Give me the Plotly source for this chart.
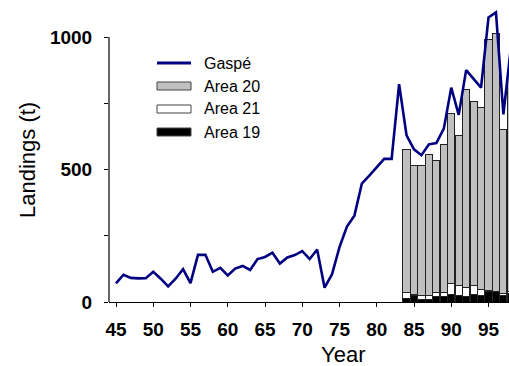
import plotly.graph_objects as go

# ---- data ----
line_years = list(range(45, 99))
gaspe = [70, 103, 91, 89, 90, 114, 88, 59, 88, 124,
         71, 178, 178, 114, 129, 100, 126, 136, 121, 162,
         170, 186, 145, 168, 177, 192, 162, 198, 54, 105,
         207, 285, 326, 447, 477, 510, 540, 540, 822, 629,
         576, 554, 595, 600, 654, 809, 706, 875, 841, 809,
         1074, 1093, 708, 960]

bar_years = list(range(84, 99))
area19 = [15, 25, 10, 10, 22, 21, 28, 23, 21, 28, 25, 40, 38, 25, 33]
area21 = [21, 3, 15, 15, 14, 15, 40, 40, 35, 33, 23, 4, 3, 8, 5]
area20 = [538, 486, 490, 531, 497, 560, 645, 567, 747, 695, 687, 947, 974, 619, 832]

x_ticks = [45, 50, 55, 60, 65, 70, 75, 80, 85, 90, 95]
y_tickvals = [0, 250, 500, 750, 1000]
y_ticktext = ["0", "", "500", "", "1000"]

# ---- layout geometry (pixels) ----
W, H = 509, 366
ML, MR, MT, MB = 109, 0, 5, 64
PW, PH = W - ML - MR, H - MT - MB
px_per_year = 7.45
x0 = 45 - (116 - ML) / px_per_year
x1 = x0 + PW / px_per_year
y_top = PH / 0.265

def xp(px):
    return (px - ML) / PW

def yp(py):
    return (H - MB - py) / PH

NAVY = "#000080"
GRAY = "#c0c0c0"
EDGE = "#222222"
FONT = "Liberation Sans, Arial, sans-serif"

fig = go.Figure()
for name, vals, col in [("Area 19", area19, "black"),
                        ("Area 21", area21, "white"),
                        ("Area 20", area20, GRAY)]:
    fig.add_trace(go.Bar(x=bar_years, y=vals, name=name, marker_color=col,
                         marker_line_color=EDGE, marker_line_width=1,
                         showlegend=False))
fig.add_trace(go.Scatter(x=line_years, y=gaspe, mode="lines", name="Gaspé",
                         line=dict(color=NAVY, width=2.6), showlegend=False))

shapes = [
    # y axis line from 0 to 1000
    dict(type="line", xref="paper", yref="y", x0=0, x1=0, y0=0, y1=1000,
         line=dict(color="black", width=1.2)),
    # legend symbols
    dict(type="line", xref="paper", yref="paper", x0=xp(157), x1=xp(191),
         y0=yp(63), y1=yp(63), line=dict(color=NAVY, width=3)),
]
legend_rows = [("Area 20", GRAY, 86), ("Area 21", "white", 109), ("Area 19", "black", 132)]
for _, col, cy in legend_rows:
    shapes.append(dict(type="rect", xref="paper", yref="paper",
                       x0=xp(157), x1=xp(191), y0=yp(cy - 4), y1=yp(cy + 4),
                       fillcolor=col, line=dict(color="#444444", width=1)))

annotations = [
    dict(text="Gaspé", xref="paper", yref="paper", x=xp(202), y=yp(63),
         xanchor="left", yanchor="middle", showarrow=False,
         font=dict(size=16, color="black", family=FONT)),
]
for label, _, cy in legend_rows:
    annotations.append(dict(text=label, xref="paper", yref="paper", x=xp(202), y=yp(cy),
                            xanchor="left", yanchor="middle", showarrow=False,
                            font=dict(size=16, color="black", family=FONT)))
annotations += [
    dict(text="Year", xref="paper", yref="paper", x=xp(343), y=yp(354),
         xanchor="center", yanchor="middle", showarrow=False,
         font=dict(size=22, color="black", family=FONT)),
    dict(text="Landings (t)", xref="paper", yref="paper", x=xp(27), y=yp(160),
         xanchor="center", yanchor="middle", showarrow=False, textangle=-90,
         font=dict(size=22, color="black", family=FONT)),
]

fig.update_layout(
    width=W, height=H,
    margin=dict(l=ML, r=MR, t=MT, b=MB, pad=0),
    paper_bgcolor="white", plot_bgcolor="white",
    barmode="stack", bargap=0.04,
    shapes=shapes, annotations=annotations,
    font=dict(family=FONT, color="black"),
    xaxis=dict(range=[x0, x1], tickvals=x_ticks, ticks="outside", ticklen=4,
               tickwidth=1.2, tickcolor="black", showline=True, linecolor="black",
               linewidth=1.2, showgrid=False, zeroline=False,
               tickfont=dict(size=19, family=FONT, weight="bold", color="black"),
               ticklabelstandoff=6),
    yaxis=dict(range=[0, y_top], tickvals=y_tickvals, ticktext=y_ticktext,
               ticks="outside", ticklen=4, tickwidth=1.2, tickcolor="black",
               showline=False, showgrid=False, zeroline=False,
               tickfont=dict(size=19, family=FONT, weight="bold", color="black"),
               ticklabelstandoff=8),
)

fig.write_html("out.html", config={"displayModeBar": False},
               post_script="document.body.style.margin='0px';document.body.style.overflow='hidden';")
